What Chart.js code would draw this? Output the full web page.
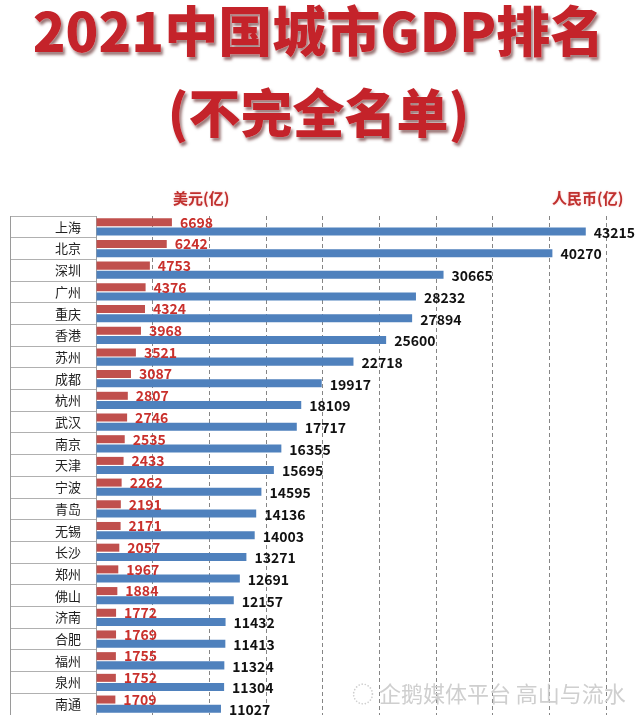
<!DOCTYPE html>
<html>
<head>
<meta charset="utf-8">
<title>2021中国城市GDP排名</title>
<script src="https://cdn.jsdelivr.net/npm/chart.js@4.4.1/dist/chart.umd.min.js"></script>
<style>
    html, body {
        margin: 0;
        padding: 0;
        background: #fff;
        overflow: hidden;
        width: 637px;
        height: 715px;
    }
    #wrap {
        position: relative;
        width: 637px;
        height: 715px;
    }
    #gdpChart {
        position: absolute;
        left: 0;
        top: 0;
    }
    .title {
        position: absolute;
        left: 0;
        width: 637px;
        text-align: center;
        font-family: "Noto Sans CJK SC", sans-serif;
        font-weight: 900;
        color: #c4232a;
        text-shadow: 0 0 1px #fff, 2px 3px 3px rgba(70, 0, 0, 0.55);
        white-space: nowrap;
    }
    .head {
        position: absolute;
        font-family: "Noto Sans CJK SC", sans-serif;
        font-weight: 700;
        font-size: 15px;
        color: #c0302e;
        text-shadow: 0 0 2px rgba(220, 80, 80, 0.4);
        white-space: nowrap;
    }
    .mark {
        position: absolute;
        left: 352px;
        top: 676px;
        font-family: "Noto Sans CJK SC", sans-serif;
        font-size: 22px;
        color: #cfcfcf;
        white-space: nowrap;
    }
</style>
</head>
<body>
<div id="wrap">
    <canvas id="gdpChart" width="637" height="716"></canvas>
    <div class="title" style="top:-11px; font-size:54px;">2021中国城市GDP排名</div>
    <div class="title" style="top:73px; font-size:52px;">(不完全名单)</div>
    <div class="head" style="left:173px; top:187px;">美元(亿)</div>
    <div class="head" style="left:552px; top:187px;">人民币(亿)</div>
    <div class="mark">◌ 企鹅媒体平台 高山与流水</div>
</div>

<script>
// 城市名单（按人民币GDP排序）
const cities = ['上海', '北京', '深圳', '广州', '重庆', '香港', '苏州', '成都', '杭州', '武汉', '南京', '天津',
    '宁波', '青岛', '无锡', '长沙', '郑州', '佛山', '济南', '合肥', '福州', '泉州', '南通'];

// 美元（亿）
const gdpUsd = [6698, 6242, 4753, 4376, 4324, 3968, 3521, 3087, 2807, 2746, 2535, 2433,
    2262, 2191, 2171, 2057, 1967, 1884, 1772, 1769, 1755, 1752, 1709];

// 人民币（亿）
const gdpRmb = [43215, 40270, 30665, 28232, 27894, 25600, 22718, 19917, 18109, 17717, 16355, 15695,
    14595, 14136, 14003, 13271, 12691, 12157, 11432, 11413, 11324, 11304, 11027];

// 数值轴范围
const axisMax = 45000;
const axisStep = 5000;

// 在柱子末端写数值
const valueLabels = {
    id: 'valueLabels',
    afterDatasetsDraw(chart) {
        const ctx = chart.ctx;
        ctx.save();
        ctx.textAlign = 'left';
        ctx.textBaseline = 'middle';
        chart.data.datasets.forEach((ds, i) => {
            const meta = chart.getDatasetMeta(i);
            ctx.font = 'bold 14px "Noto Sans CJK SC", sans-serif';
            ctx.fillStyle = ds.labelColor;
            meta.data.forEach((bar, j) => {
                ctx.fillText(String(ds.data[j]), bar.x + 8, bar.y + ds.labelShift);
            });
        });
        ctx.restore();
    }
};

// 表格左边框
const tableBorder = {
    id: 'tableBorder',
    beforeDatasetsDraw(chart) {
        const y = chart.scales.y;
        const ctx = chart.ctx;
        ctx.save();
        ctx.strokeStyle = '#9a9a9a';
        ctx.lineWidth = 1;
        ctx.beginPath();
        ctx.moveTo(y.left + 0.5, y.top);
        ctx.lineTo(y.left + 0.5, y.bottom);
        ctx.stroke();
        ctx.restore();
    }
};

new Chart(document.getElementById('gdpChart'), {
    type: 'bar',
    data: {
        labels: cities,
        datasets: [
            {
                label: '美元(亿)',
                data: gdpUsd,
                backgroundColor: '#c0504d',
                labelColor: '#c9302c',
                labelShift: 0,
                categoryPercentage: 0.85,
                barPercentage: 0.87
            },
            {
                label: '人民币(亿)',
                data: gdpRmb,
                backgroundColor: '#4f81bd',
                labelColor: '#111111',
                labelShift: 1,
                categoryPercentage: 0.85,
                barPercentage: 0.87
            }
        ]
    },
    options: {
        indexAxis: 'y',
        responsive: false,
        animation: false,
        layout: {
            padding: { left: 10, right: 31, top: 216, bottom: 1 }
        },
        plugins: {
            legend: { display: false },
            tooltip: { enabled: false }
        },
        scales: {
            x: {
                min: 0,
                max: axisMax,
                ticks: { display: false, stepSize: axisStep },
                // 竖向虚线网格
                border: { display: false, dash: [4, 3] },
                grid: {
                    color: '#858585',
                    drawTicks: false,
                    tickLength: 0
                }
            },
            y: {
                afterFit: scale => { scale.width = 86; },
                ticks: {
                    color: '#222',
                    padding: -71,
                    font: { family: '"Noto Sans CJK SC", sans-serif', size: 13 }
                },
                border: { display: true, color: '#a0a0a0' },
                grid: {
                    drawOnChartArea: false,
                    drawTicks: true,
                    tickLength: 86,
                    color: '#b0b0b0'
                }
            }
        }
    },
    plugins: [valueLabels, tableBorder]
});
</script>
</body>
</html>
